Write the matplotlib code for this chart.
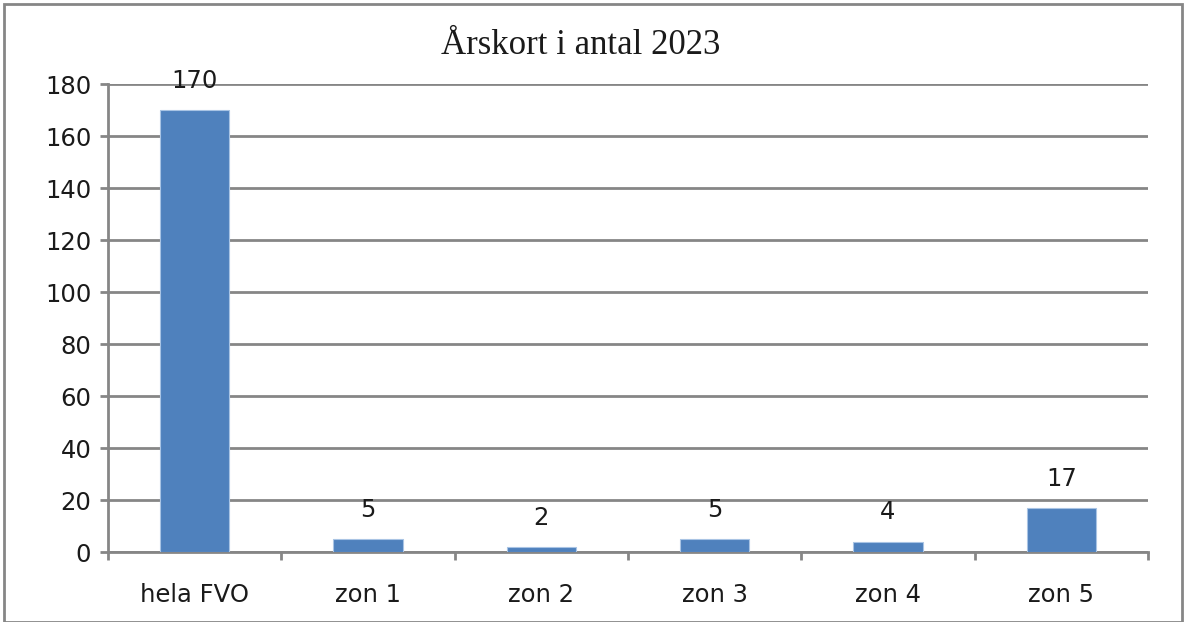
import numpy as np
import matplotlib.pyplot as plt
from matplotlib.patches import Rectangle

categories = ['hela FVO', 'zon 1', 'zon 2', 'zon 3', 'zon 4', 'zon 5']
values = [170, 5, 2, 5, 4, 17]
yticks = [0, 20, 40, 60, 80, 100, 120, 140, 160, 180]

plt.rcParams['font.family'] = ['DejaVu Sans']
grey = '#868686'
txt = '#1a1a1a'

fig = plt.figure(figsize=(11.84, 6.22), dpi=100)
ax = fig.add_axes([108/1184, 1-552/622, (1148-108)/1184, (552-84)/622])

x = np.arange(len(categories))
ax.bar(x, values, width=0.4, color='#4F81BD', edgecolor='#A9C4E4', linewidth=0.8, zorder=3)
for xi, v in zip(x, values):
    ax.annotate(str(v), (xi, v), xytext=(0, 21), textcoords='offset points',
                ha='center', va='center', fontsize=17.5, color=txt)

ax.set_xlim(-0.5, len(categories) - 0.5)
ax.set_ylim(0, 180)
ax.set_yticks(yticks)
ax.set_yticklabels([str(t) for t in yticks], fontsize=17.5, color=txt)
ax.yaxis.grid(True, color=grey, linewidth=2, zorder=0)
ax.set_axisbelow(True)

ax.set_xticks(x)
ax.set_xticklabels(categories, fontsize=17.5, color=txt)
ax.tick_params(axis='x', length=0, pad=22)
ax.set_xticks(np.arange(-0.5, len(categories)), minor=True)
ax.tick_params(axis='x', which='minor', length=6, width=2, color=grey)
ax.tick_params(axis='y', length=6, width=2, color=grey, pad=6)

for s in ['top', 'right']:
    ax.spines[s].set_visible(False)
for s in ['left', 'bottom']:
    ax.spines[s].set_color(grey)
    ax.spines[s].set_linewidth(2)

fig.text(581/1184, 1-46/622, 'Årskort i antal 2023', ha='center', va='center',
         fontsize=25, family='Liberation Serif', color=txt)

fig.patches.append(Rectangle((4/1184, 0), 1178/1184, 1-4/622, transform=fig.transFigure,
                             fill=False, edgecolor=grey, linewidth=2))

fig.savefig('out.png', dpi=100, facecolor='white')
